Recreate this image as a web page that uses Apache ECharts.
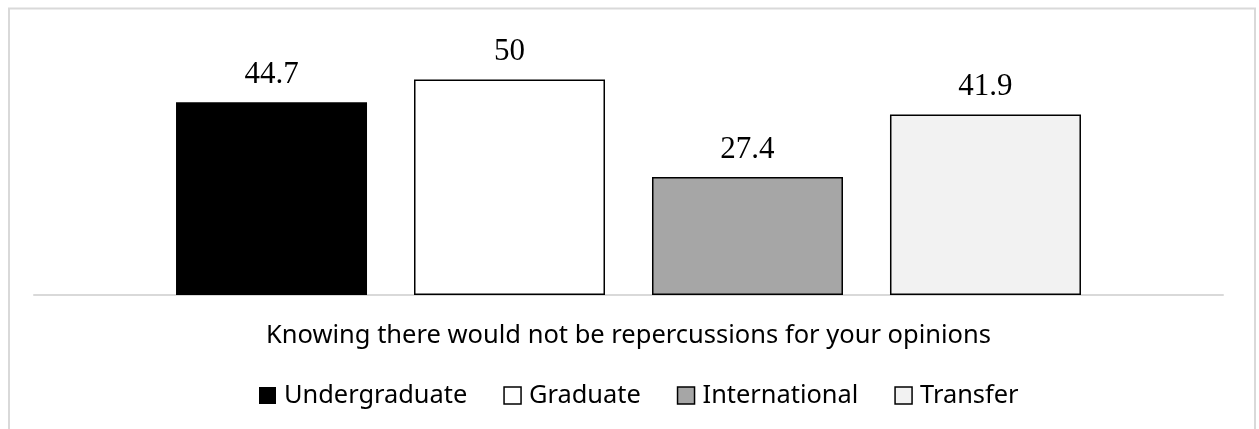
<!DOCTYPE html>
<html>
<head>
<meta charset="utf-8">
<script src="https://cdn.jsdelivr.net/npm/echarts@6/dist/echarts.min.js"></script>
<style>
  html, body { margin: 0; padding: 0; background: #ffffff; }
  #chart { width: 1259px; height: 429px; }
</style>
</head>
<body>
<div id="chart"></div>
<script>
// Survey item shown on the category axis
const categories = ['Knowing there would not be repercussions for your opinions'];

// Share of each student group (percent)
const groupNames = ['Undergraduate', 'Graduate', 'International', 'Transfer'];
const undergraduate = [44.7];
const graduate = [50];
const international = [27.4];
const transfer = [41.9];
const groupValues = [undergraduate, graduate, international, transfer];

// Fill for each group's bar
const groupFills = ['#000000', '#ffffff', '#a6a6a6', '#f2f2f2'];

const chart = echarts.init(document.getElementById('chart'), null, { renderer: 'canvas' });

const series = groupNames.map((name, i) => ({
  name: name,
  type: 'bar',
  data: groupValues[i],
  barWidth: 191,
  barGap: '24.6%',
  itemStyle: {
    color: groupFills[i],
    borderColor: '#000000',
    borderWidth: i === 0 ? 0 : 1.5
  },
  label: {
    show: true,
    position: 'top',
    distance: 12,
    color: '#000000',
    fontFamily: '"Liberation Serif", "DejaVu Serif", serif',
    fontSize: 31
  }
}));

chart.setOption({
  animation: false,
  backgroundColor: '#ffffff',
  graphic: [{
    type: 'rect',
    shape: { x: 9, y: 8.5, width: 1246, height: 440 },
    style: { fill: 'none', stroke: '#d9d9d9', lineWidth: 2 },
    silent: true
  }],
  grid: { left: 34, right: 36, top: 36.4, bottom: 134 },
  xAxis: {
    type: 'category',
    data: categories,
    axisLine: { show: true, lineStyle: { color: '#d9d9d9', width: 2 } },
    axisTick: { show: false },
    axisLabel: {
      margin: 28,
      color: '#000000',
      fontFamily: '"Noto Sans", "Open Sans", sans-serif',
      fontSize: 25.5
    }
  },
  yAxis: {
    type: 'value',
    min: 0,
    max: 60,
    show: false,
    splitLine: { show: false }
  },
  legend: {
    top: 378,
    left: 254,
    itemWidth: 17,
    itemHeight: 17,
    itemGap: 36,
    icon: 'rect',
    textStyle: {
      color: '#000000',
      fontFamily: '"Noto Sans", "Open Sans", sans-serif',
      fontSize: 25.4,
      padding: [0, 0, 0, 3]
    },
    data: groupNames.map((name, i) => ({
      name: name,
      itemStyle: {
        color: groupFills[i],
        borderColor: '#000000',
        borderWidth: i === 0 ? 0 : 1.5
      }
    }))
  },
  series: series
});
</script>
</body>
</html>
